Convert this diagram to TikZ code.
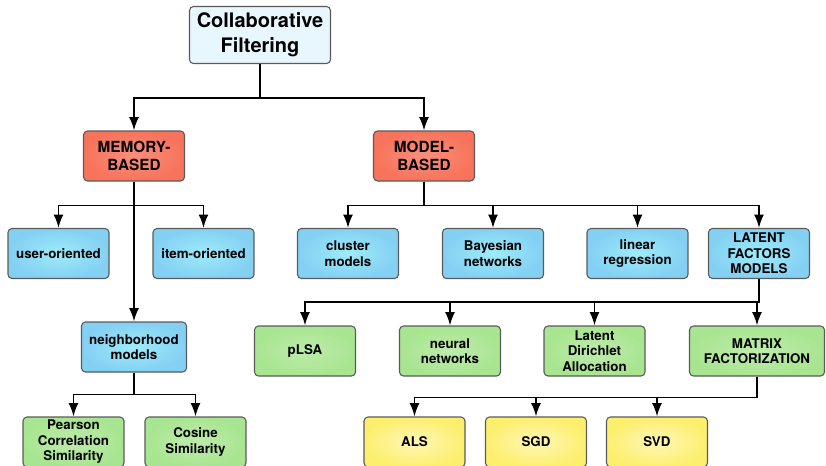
\documentclass[tikz,border=0pt]{standalone}
\usepackage{fontspec}
\setmainfont{TeX Gyre Heros}
\usetikzlibrary{arrows.meta}

\definecolor{rootfill}{HTML}{E8F6FD}
\definecolor{redfill}{HTML}{F8735B}
\definecolor{bluefill}{HTML}{84D0F3}
\definecolor{greenfill}{HTML}{A8E590}
\definecolor{yellowfill}{HTML}{FDEF6E}
\definecolor{boxline}{HTML}{5A5A5A}

\tikzset{
  box/.style={draw=boxline, line width=0.8pt, rounded corners=3pt, align=center,
    minimum width=75.75pt, minimum height=37.5pt, inner sep=1pt,
    font=\fontsize{10}{11.6}\selectfont\bfseries},
  rootbox/.style={box, fill=rootfill, minimum width=105.75pt, minimum height=42.75pt,
    font=\fontsize{15}{18.75}\selectfont\bfseries},
  redbox/.style={box, inner color=redfill!80!white, outer color=redfill,
    font=\fontsize{11.5}{13.5}\selectfont\bfseries},
  bluebox/.style={box, inner color=bluefill!70!cyan!60!white, outer color=bluefill},
  greenbox/.style={box, inner color=greenfill!75!white, outer color=greenfill},
  yellowbox/.style={box, inner color=yellowfill!50!white, outer color=yellowfill},
  link/.style={line width=1.4pt, -{Latex[length=10pt,width=7.5pt]}}
}

\begin{document}
\begin{tikzpicture}[x=0.75pt,y=-0.75pt]
\useasboundingbox (0,0) rectangle (826,465);

% top levels
\node(CF)[rootbox] at (260,35) {Collaborative\\Filtering};
\node(Mem)[redbox] at (134,156) {MEMORY-\\BASED};
\node(Mod)[redbox] at (424,156) {MODEL-\\BASED};

% memory based branch
\node(User)[bluebox] at (58.5,253.5) {user-oriented};
\node(Item)[bluebox] at (203.5,253.5) {item-oriented};
\node(Neigh)[bluebox, minimum width=78.75pt] at (134,347) {neighborhood\\models};
\node(Pearson)[greenbox] at (73.5,442) {Pearson\\Correlation\\Similarity};
\node(Cosine)[greenbox] at (195.5,442) {Cosine\\Similarity};

% model based branch
\node(Cluster)[bluebox] at (348,253.5) {cluster\\models};
\node(Bayes)[bluebox] at (493,253.5) {Bayesian\\networks};
\node(Linear)[bluebox] at (637.5,253.5) {linear\\regression};
\node(Latent)[bluebox] at (759,253.5) {LATENT\\FACTORS\\MODELS};

\node(PLSA)[greenbox] at (305,351) {pLSA};
\node(Neural)[greenbox] at (450,351) {neural\\networks};
\node(LDA)[greenbox] at (594.5,351) {Latent\\Dirichlet\\Allocation};
\node(Matrix)[greenbox, minimum width=101.25pt] at (757,351) {MATRIX\\FACTORIZATION};

\node(ALS)[yellowbox] at (414.5,442) {ALS};
\node(SGD)[yellowbox] at (536,442) {SGD};
\node(SVD)[yellowbox] at (657,442) {SVD};

% connectors
\draw[link] (CF.south) -- ++(0,34) -| (Mem.north);
\draw[link] (CF.south) -- ++(0,34) -| (Mod.north);

\draw[link] (Mem.south) -- ++(0,24) -| (User.north);
\draw[link] (Mem.south) -- ++(0,24) -| (Item.north);
\draw[link] (Mem.south) -- (Neigh.north);
\draw[link] (Neigh.south) -- ++(0,22) -| (Pearson.north);
\draw[link] (Neigh.south) -- ++(0,22) -| (Cosine.north);

\draw[link] (Mod.south) -- ++(0,24) -| (Cluster.north);
\draw[link] (Mod.south) -- ++(0,24) -| (Bayes.north);
\draw[link] (Mod.south) -- ++(0,24) -| (Linear.north);
\draw[link] (Mod.south) -- ++(0,24) -| (Latent.north);

\draw[link] (Latent.south) -- ++(0,23) -| (PLSA.north);
\draw[link] (Latent.south) -- ++(0,23) -| (Neural.north);
\draw[link] (Latent.south) -- ++(0,23) -| (LDA.north);
\draw[link] (Latent.south) -- ++(0,23) -| (Matrix.north);

\draw[link] (Matrix.south) -- ++(0,21) -| (ALS.north);
\draw[link] (Matrix.south) -- ++(0,21) -| (SGD.north);
\draw[link] (Matrix.south) -- ++(0,21) -| (SVD.north);
\end{tikzpicture}
\end{document}
